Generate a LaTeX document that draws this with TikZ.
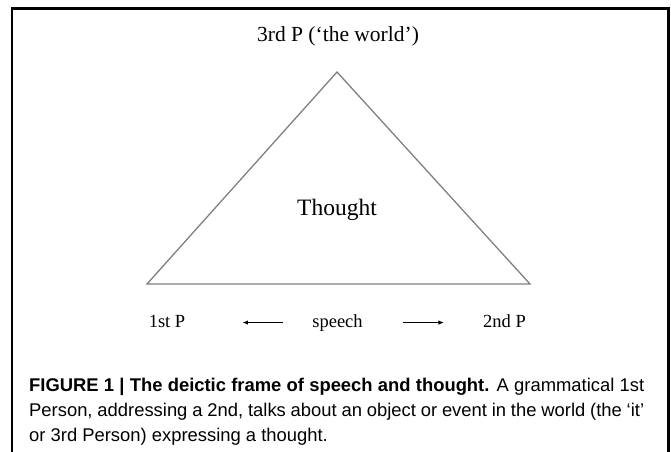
\documentclass[tikz,border=0pt]{standalone}
\usepackage{fontspec}
\setmainfont{Liberation Serif}
\newfontfamily\capfont{Liberation Sans}
\usetikzlibrary{arrows.meta}
\begin{document}
\begin{tikzpicture}[x=1pt,y=-1pt,
  frameline/.style={line width=2.2pt,black},
  triline/.style={line width=1.3pt,draw=black!50,line join=miter},
  lbl/.style={inner sep=0pt,anchor=base,font=\fontsize{18.5}{22}\selectfont},
  biglbl/.style={inner sep=0pt,anchor=base,font=\fontsize{21.5}{26}\selectfont},
  midlbl/.style={inner sep=0pt,anchor=base,font=\fontsize{23.5}{28}\selectfont},
  arr/.style={line width=1.1pt,-{Latex[length=5.5pt,width=4.5pt]}},
  capline/.style={inner sep=0pt,anchor=base west,font=\capfont\fontsize{18.4}{25}\selectfont}]
\useasboundingbox (0,0) rectangle (671,451);
% frame
\draw[frameline] (12,452) -- (12,8.5) -- (668.5,8.5) -- (668.5,452);
% title
\node[biglbl] (title) at (338,41) {3rd P (‘the world’)};
% triangle
\coordinate (apex) at (337,72);
\coordinate (bl) at (147,284);
\coordinate (br) at (530,284);
\draw[triline] (apex) -- (bl) -- (br) -- cycle;
\node[midlbl] (thought) at (337,215) {Thought};
% bottom row
\node[lbl] (first) at (167,327) {1st P};
\node[lbl] (speech) at (337.5,327) {speech};
\node[lbl] (second) at (504.5,327) {2nd P};
\draw[arr, shorten <=29pt, shorten >=57pt] (speech.west) -- (speech.west -| first.east);
\draw[arr, shorten <=40pt, shorten >=39pt] (speech.east) -- (speech.east -| second.west);
% caption
\node[capline] (cap1) at (29,391) {\makebox[615pt][s]{\bfseries FIGURE 1 | The deictic frame of speech and thought.\mdseries{} A grammatical 1st}};
\node[capline] (cap2) at (29,416) {\makebox[615pt][s]{Person, addressing a 2nd, talks about an object or event in the world (the ‘it’}};
\node[capline] (cap3) at (29,441) {or 3rd Person) expressing a thought.};
\end{tikzpicture}
\end{document}
